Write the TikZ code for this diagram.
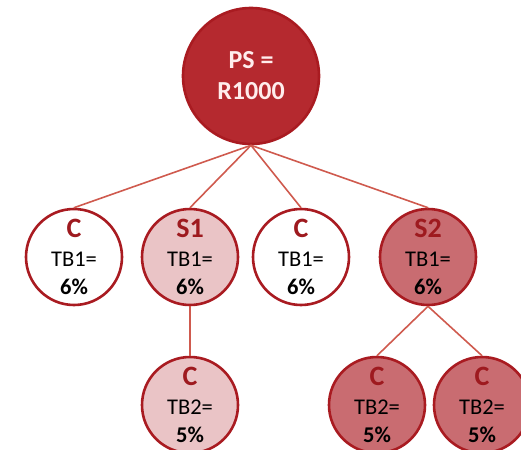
\documentclass[tikz,border=0pt]{standalone}
\usepackage{fontspec}
\setmainfont{Carlito}
\definecolor{psred}{HTML}{B5292F}
\definecolor{rim}{HTML}{A91B21}
\definecolor{sred}{HTML}{C96C71}
\definecolor{spink}{HTML}{EAC4C6}
\definecolor{wire}{HTML}{CF5A4E}
\definecolor{head}{HTML}{9E1A1F}
\newcommand{\cell}[3]{{\fontsize{28}{28}\selectfont\bfseries\color{head}#1}\\[1pt]#2\\{\bfseries #3}}

\begin{document}
\begin{tikzpicture} [x=1pt, y=-1pt,
  ball/.style={circle, draw=rim, line width=2.6pt, inner sep=0pt, minimum size=96pt,
    align=center, font=\fontsize{22.5}{28}\selectfont},
  wire/.style={draw=wire, line width=1.6pt}]
\useasboundingbox (0,0) rectangle (521,449);
% top node
\node[ball, fill=psred, minimum size=136pt, text=white!93!red,
  font=\fontsize{26}{31}\selectfont\bfseries] (ps) at (251,76) {PS =\\R1000};
% second row
\node[ball, fill=white] (c1) at (74,257) {\cell{C}{TB1=}{6\%}};
\node[ball, fill=spink] (s1) at (190,257) {\cell{S1}{TB1=}{6\%}};
\node[ball, fill=white] (c2) at (301,257) {\cell{C}{TB1=}{6\%}};
\node[ball, fill=sred] (s2) at (428,257) {\cell{S2}{TB1=}{6\%}};
% third row
\node[ball, fill=spink] (c3) at (190,405) {\cell{C}{TB2=}{5\%}};
\node[ball, fill=sred] (c4) at (377,405) {\cell{C}{TB2=}{5\%}};
\node[ball, fill=sred] (c5) at (482,405) {\cell{C}{TB2=}{5\%}};
% links
\foreach \k in {c1, s1, c2, s2} {
 \draw[wire] (ps.south) -- (\k.north);
}
\draw[wire] (s1.south) -- (c3.north);
\draw[wire] (s2.south) -- (c4.north);
\draw[wire] (s2.south) -- (c5.north);
\end{tikzpicture}
\end{document}
